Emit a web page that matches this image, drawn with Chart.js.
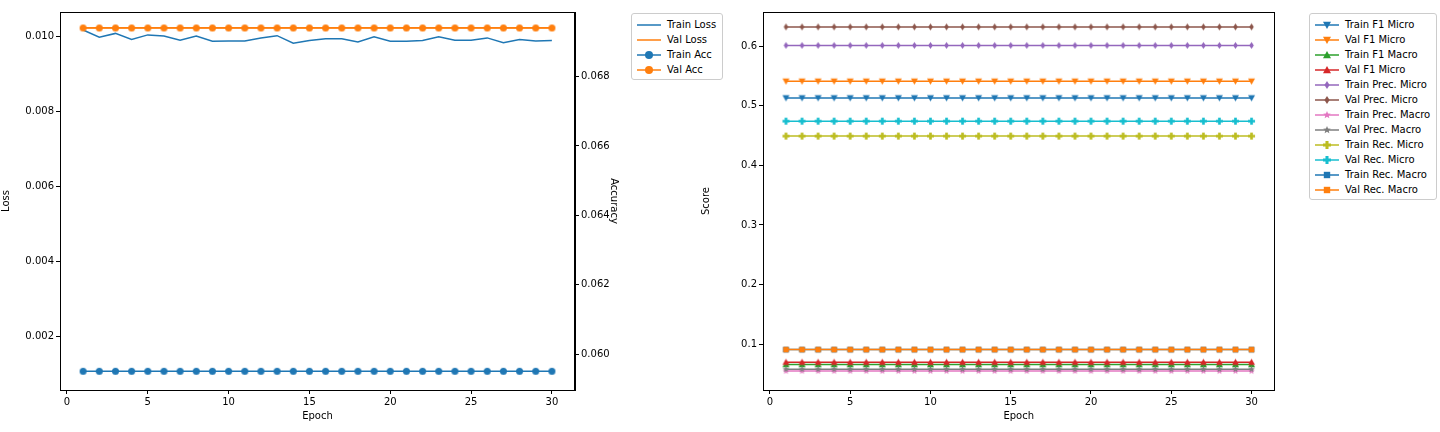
<!DOCTYPE html>
<html><head><meta charset="utf-8">
<script src="https://cdn.jsdelivr.net/npm/chart.js@4"></script>
<style>
body{margin:0;background:#fff;font-family:"DejaVu Sans",sans-serif;}
#w{position:relative;width:1440px;height:432px;}
canvas{position:absolute;}
.leg{position:absolute;border:1px solid #ccc;border-radius:3px;background:#fff;padding:3px 6px 2px 5px;font-size:10px;color:#000}
.leg div{height:15px;line-height:15px;white-space:nowrap}
.leg svg{vertical-align:middle;margin-right:6px}
</style></head><body><div id="w">
<div style="position:absolute;left:0;top:0;width:620px;height:432px"><canvas id="c1"></canvas></div>
<div style="position:absolute;left:700px;top:0;width:580px;height:432px"><canvas id="c2"></canvas></div>
<div class="leg" id="l1" style="left:631px;top:13px"></div>
<div class="leg" id="l2" style="left:1309px;top:13px"></div>
</div>
<script>
const epochs=Array.from({length:30},(_,i)=>i+1);
const trainLoss=[0.01016,0.00997,0.01007,0.00991,0.01003,0.0100,0.00989,0.0100,0.00986,0.00987,0.00987,0.00995,0.01001,0.00981,0.00988,0.00993,0.00993,0.00984,0.00998,0.00986,0.00986,0.00988,0.00998,0.00989,0.00989,0.00995,0.00982,0.00991,0.00987,0.00988];
const valLoss=epochs.map(()=>0.01022);
const trainAcc=epochs.map(()=>0.05951);
const valAcc=epochs.map(()=>0.06940);
const scoreSeries=[
 ["Train F1 Micro",0.513,"#1f77b4","tri-down"],
 ["Val F1 Micro",0.541,"#ff7f0e","tri-down"],
 ["Train F1 Macro",0.066,"#2ca02c","triangle"],
 ["Val F1 Micro",0.070,"#d62728","triangle"],
 ["Train Prec. Micro",0.601,"#9467bd","rectRot"],
 ["Val Prec. Micro",0.632,"#8c564b","rectRot"],
 ["Train Prec. Macro",0.055,"#e377c2","star"],
 ["Val Prec. Macro",0.058,"#7f7f7f","star"],
 ["Train Rec. Micro",0.449,"#bcbd22","plus"],
 ["Val Rec. Micro",0.474,"#17becf","plus"],
 ["Train Rec. Macro",0.091,"#1f77b4","rect"],
 ["Val Rec. Macro",0.091,"#ff7f0e","rect"]
];
const lossTicks=[0.002,0.004,0.006,0.008,0.010];
const accTicks=[0.060,0.062,0.064,0.066,0.068];
const scoreTicks=[0.1,0.2,0.3,0.4,0.5,0.6];
const epochTicks=[0,5,10,15,20,25,30];
const F={family:"DejaVu Sans",size:10};
Chart.defaults.font=F;Chart.defaults.color="#000";
function mk(shape,color,size){
 const c=document.createElement('canvas');const s=size*2+2;c.width=s;c.height=s;const g=c.getContext('2d');
 g.fillStyle=color;g.translate(s/2,s/2);g.beginPath();const r=size;
 if(shape==='tri-down'){g.moveTo(-r,-r*0.8);g.lineTo(r,-r*0.8);g.lineTo(0,r);}
 else if(shape==='triangle'){g.moveTo(-r,r*0.8);g.lineTo(r,r*0.8);g.lineTo(0,-r);}
 else if(shape==='rectRot'){g.moveTo(0,-r);g.lineTo(r*0.65,0);g.lineTo(0,r);g.lineTo(-r*0.65,0);}
 else if(shape==='star'){for(let i=0;i<10;i++){const a=-Math.PI/2+i*Math.PI/5;const rr=i%2?r*0.45:r;g.lineTo(rr*Math.cos(a),rr*Math.sin(a));}}
 else if(shape==='plus'){const t=r*0.38;g.rect(-r,-t,2*r,2*t);g.rect(-t,-r,2*t,2*r);}
 else if(shape==='rect'){g.rect(-r*0.8,-r*0.8,r*1.6,r*1.6);}
 else if(shape==='circle'){g.arc(0,0,r,0,Math.PI*2);}
 g.closePath();g.fill();return c;}
const frame={id:'frame',afterDatasetsDraw(ch){const a=ch.chartArea,g=ch.ctx;g.save();g.strokeStyle='#000';g.lineWidth=1;g.strokeRect(Math.round(a.left)+0.5,Math.round(a.top)+0.5,Math.round(a.right-a.left)-1,Math.round(a.bottom-a.top));g.restore();}};
function xAxis(){return {type:'linear',min:-0.43,max:31.43,border:{color:'#000'},grid:{drawOnChartArea:false,color:'#000',tickLength:4},
 ticks:{autoSkip:false,padding:2},afterBuildTicks:a=>{a.ticks=epochTicks.map(v=>({value:v}))},
 title:{display:true,text:'Epoch',padding:{top:0,bottom:0}}};}
function yBase(extra){return Object.assign({border:{color:'#000'},grid:{drawOnChartArea:false,color:'#000',tickLength:4}},extra);}
new Chart(document.getElementById('c1'),{type:'line',data:{datasets:[
 {label:'Train Loss',data:epochs.map((e,i)=>({x:e,y:trainLoss[i]})),borderColor:'#1f77b4',borderWidth:1.5,pointRadius:0,yAxisID:'y'},
 {label:'Val Loss',data:epochs.map((e,i)=>({x:e,y:valLoss[i]})),borderColor:'#ff7f0e',borderWidth:1.5,pointRadius:0,yAxisID:'y'},
 {label:'Train Acc',data:epochs.map((e,i)=>({x:e,y:trainAcc[i]})),borderColor:'#1f77b4',borderWidth:1.5,pointStyle:mk('circle','#1f77b4',3.5),yAxisID:'y1'},
 {label:'Val Acc',data:epochs.map((e,i)=>({x:e,y:valAcc[i]})),borderColor:'#ff7f0e',borderWidth:1.5,pointStyle:mk('circle','#ff7f0e',3.5),yAxisID:'y1'}
].map((d,i,a)=>Object.assign(d,{order:a.length-i}))},options:{animation:false,responsive:true,maintainAspectRatio:false,layout:{padding:{top:12,bottom:10}},
 plugins:{legend:{display:false},tooltip:{enabled:false}},
 scales:{x:xAxis(),
 y:yBase({position:'left',min:0.00057,max:0.01064,ticks:{padding:2,callback:v=>v.toFixed(3)},afterBuildTicks:a=>{a.ticks=lossTicks.map(v=>({value:v}))},afterFit:a=>{a.width=60},title:{display:true,text:'Loss',padding:{top:0,bottom:4}}}),
 y1:yBase({position:'right',min:0.05897,max:0.06986,ticks:{padding:2,callback:v=>v.toFixed(3)},afterBuildTicks:a=>{a.ticks=accTicks.map(v=>({value:v}))},afterFit:a=>{a.width=45},title:{display:true,text:'Accuracy',padding:0}})
 }},plugins:[frame]});
new Chart(document.getElementById('c2'),{type:'line',data:{datasets:scoreSeries.map((s,i)=>({label:s[0],order:scoreSeries.length-i,data:epochs.map(e=>({x:e,y:s[1]})),borderColor:s[2],borderWidth:1.5,pointStyle:mk(s[3],s[2],3.5)}))},
 options:{animation:false,responsive:true,maintainAspectRatio:false,layout:{padding:{top:12,right:2,bottom:10}},
 plugins:{legend:{display:false},tooltip:{enabled:false}},
 scales:{x:xAxis(),y:yBase({min:0.0233,max:0.657,ticks:{padding:2,callback:v=>v.toFixed(1)},afterBuildTicks:a=>{a.ticks=scoreTicks.map(v=>({value:v}))},afterFit:a=>{a.width=63},title:{display:true,text:'Score',padding:{top:0,bottom:4}}})}},plugins:[frame]});
function legend(id,items){const el=document.getElementById(id);items.forEach(([t,c,sh])=>{const d=document.createElement('div');
 const svg=`<svg width="24" height="10"><line x1="0" y1="5" x2="24" y2="5" stroke="${c}" stroke-width="1.5"/>${sh?`<image href="${mk(sh,c,4).toDataURL()}" x="7" y="0" width="10" height="10"/>`:''}</svg>`;
 d.innerHTML=svg+t;el.appendChild(d);});}
legend('l1',[['Train Loss','#1f77b4',null],['Val Loss','#ff7f0e',null],['Train Acc','#1f77b4','circle'],['Val Acc','#ff7f0e','circle']]);
legend('l2',scoreSeries.map(s=>[s[0],s[2],s[3]]));
</script></body></html>
